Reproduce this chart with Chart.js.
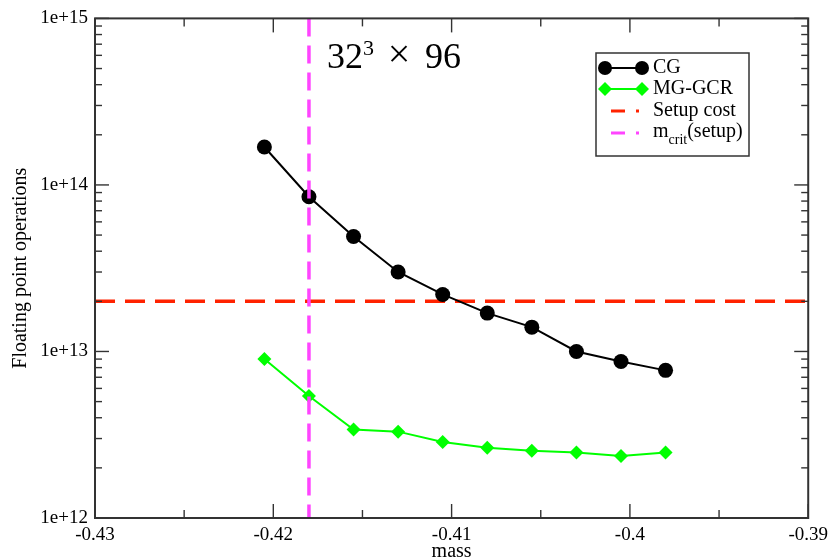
<!DOCTYPE html>
<html><head><meta charset="utf-8">
<script src="https://cdn.jsdelivr.net/npm/chart.js@4/dist/chart.umd.min.js"></script>
<style>html,body{margin:0;padding:0;background:#fff}#wrap{width:834px;height:559px;position:relative}</style>
</head><body><div id="wrap"><canvas id="c" width="834" height="559"></canvas></div>
<script>
// ---- data ----
const masses  = [-0.4205, -0.418, -0.4155, -0.413, -0.4105, -0.408, -0.4055, -0.403, -0.4005, -0.398];
const cgFlops = [1.69e14, 8.5e13, 4.9e13, 3.0e13, 2.2e13, 1.7e13, 1.4e13, 1.0e13, 8.7e12, 7.7e12];
const mgFlops = [9.0e12, 5.4e12, 3.4e12, 3.3e12, 2.86e12, 2.64e12, 2.53e12, 2.47e12, 2.36e12, 2.47e12];
const setupCost = 2e13;
const mCrit = -0.418;
const xTicks = [-0.43, -0.42, -0.41, -0.40, -0.39];
const xTickLabels = ['-0.43', '-0.42', '-0.41', '-0.4', '-0.39'];
const yTicks = [1e12, 1e13, 1e14, 1e15];
const yTickLabels = ['1e+12', '1e+13', '1e+14', '1e+15'];
const seriesNames = ['CG', 'MG-GCR', 'Setup cost', 'm', 'crit', '(setup)'];
const axisTitles = ['mass', 'Floating point operations'];
const annotationParts = ['32', '3', '\u00d7', '96'];

const SERIF = '"Liberation Serif", "Times New Roman", serif';
const xMin = xTicks[0], xMax = xTicks[xTicks.length - 1];
const yMin = yTicks[0], yMax = yTicks[yTicks.length - 1];

const COL = { cg: '#000000', mg: '#00ff00', setup: '#ff2200', crit: '#ff44ff', axis: '#333333' };

const extras = {
  id: 'extras',
  afterDraw(chart) {
    const { ctx, chartArea: a, scales: { x, y } } = chart;
    ctx.save();
    // frame
    ctx.strokeStyle = COL.axis; ctx.lineWidth = 2; ctx.setLineDash([]);
    ctx.strokeRect(a.left, a.top, a.right - a.left, a.bottom - a.top);
    ctx.lineWidth = 1.4;
    const vt = (px, len) => {
      ctx.beginPath(); ctx.moveTo(px, a.bottom); ctx.lineTo(px, a.bottom - len); ctx.stroke();
      ctx.beginPath(); ctx.moveTo(px, a.top); ctx.lineTo(px, a.top + len); ctx.stroke();
    };
    const ht = (py, len) => {
      ctx.beginPath(); ctx.moveTo(a.left, py); ctx.lineTo(a.left + len, py); ctx.stroke();
      ctx.beginPath(); ctx.moveTo(a.right, py); ctx.lineTo(a.right - len, py); ctx.stroke();
    };
    for (let i = 0; i < xTicks.length; i++) {
      vt(x.getPixelForValue(xTicks[i]), 14);
      if (i < xTicks.length - 1) vt(x.getPixelForValue((xTicks[i] + xTicks[i + 1]) / 2), 8);
    }
    for (let i = 0; i < yTicks.length; i++) {
      ht(y.getPixelForValue(yTicks[i]), 14);
      if (i < yTicks.length - 1) for (let k = 2; k <= 9; k++) ht(y.getPixelForValue(yTicks[i] * k), 7);
    }

    // annotation 32^3 x 96
    ctx.fillStyle = '#000'; ctx.textBaseline = 'alphabetic'; ctx.textAlign = 'left';
    const bx = 327, by = 68;
    ctx.font = '36px ' + SERIF;
    ctx.fillText(annotationParts[0], bx, by);
    ctx.font = '22px ' + SERIF;
    ctx.fillText(annotationParts[1], bx + 36, by - 13);
    ctx.font = '40px ' + SERIF;
    ctx.textAlign = 'center';
    ctx.fillText(annotationParts[2], bx + 72, by - 1);
    ctx.textAlign = 'left';
    ctx.font = '36px ' + SERIF;
    ctx.fillText(annotationParts[3], bx + 98, by);

    // legend
    const L = 596, T = 53, R = 749, B = 156;
    ctx.fillStyle = '#fff'; ctx.fillRect(L, T, R - L, B - T);
    ctx.strokeStyle = COL.axis; ctx.lineWidth = 1.5;
    ctx.strokeRect(L, T, R - L, B - T);
    const x0 = 605, x1 = 642, tx = 653;
    const rows = [68, 89, 111, 133];
    // CG
    ctx.strokeStyle = COL.cg; ctx.lineWidth = 2;
    ctx.beginPath(); ctx.moveTo(x0, rows[0]); ctx.lineTo(x1, rows[0]); ctx.stroke();
    ctx.fillStyle = COL.cg;
    [x0, x1].forEach(px => { ctx.beginPath(); ctx.arc(px, rows[0], 7, 0, Math.PI * 2); ctx.fill(); });
    // MG-GCR
    ctx.strokeStyle = COL.mg; ctx.lineWidth = 2;
    ctx.beginPath(); ctx.moveTo(x0, rows[1]); ctx.lineTo(x1, rows[1]); ctx.stroke();
    ctx.fillStyle = COL.mg;
    [x0, x1].forEach(px => {
      ctx.beginPath(); ctx.moveTo(px, rows[1] - 7); ctx.lineTo(px + 7, rows[1]);
      ctx.lineTo(px, rows[1] + 7); ctx.lineTo(px - 7, rows[1]); ctx.closePath(); ctx.fill();
    });
    // dashed
    [[COL.setup, rows[2]], [COL.crit, rows[3]]].forEach(([c, ry]) => {
      ctx.strokeStyle = c; ctx.lineWidth = 3; ctx.setLineDash([14, 11]);
      ctx.beginPath(); ctx.moveTo(611, ry); ctx.lineTo(639, ry); ctx.stroke();
    });
    ctx.setLineDash([]);
    ctx.fillStyle = '#000'; ctx.textBaseline = 'middle'; ctx.textAlign = 'left';
    ctx.font = '20px ' + SERIF;
    ctx.fillText(seriesNames[0], tx, rows[0]);
    ctx.fillText(seriesNames[1], tx, rows[1]);
    ctx.fillText(seriesNames[2], tx, rows[2]);
    ctx.fillText(seriesNames[3], tx, rows[3] - 1);
    let w = ctx.measureText(seriesNames[3]).width;
    ctx.font = '14px ' + SERIF;
    ctx.fillText(seriesNames[4], tx + w, rows[3] + 7);
    const w2 = ctx.measureText(seriesNames[4]).width;
    ctx.font = '20px ' + SERIF;
    ctx.fillText(seriesNames[5], tx + w + w2, rows[3] - 1);
    ctx.restore();
  }
};

new Chart(document.getElementById('c'), {
  type: 'scatter',
  data: {
    datasets: [
      { label: 'm_crit(setup)', data: [{ x: mCrit, y: yMax }, { x: mCrit, y: yMin }],
        showLine: true, borderColor: COL.crit, borderWidth: 3.5, borderDash: [18, 9], pointRadius: 0, order: 0 },
      { label: 'CG', data: masses.map((m, i) => ({ x: m, y: cgFlops[i] })), showLine: true,
        borderColor: COL.cg, backgroundColor: COL.cg, borderWidth: 2, pointRadius: 7.5, pointStyle: 'circle',
        pointBorderWidth: 0, order: 1 },
      { label: 'MG-GCR', data: masses.map((m, i) => ({ x: m, y: mgFlops[i] })), showLine: true,
        borderColor: COL.mg, backgroundColor: COL.mg, borderWidth: 2, pointRadius: 7, pointStyle: 'rectRot',
        pointBorderWidth: 0, order: 2 },
      { label: 'Setup cost', data: [{ x: xMin, y: setupCost }, { x: xMax, y: setupCost }], showLine: true,
        borderColor: COL.setup, borderWidth: 3.5, borderDash: [20, 10], pointRadius: 0, order: 3 }
    ]
  },
  options: {
    responsive: false, animation: false, devicePixelRatio: 1,
    layout: { padding: { left: 0, top: 17, right: 23, bottom: 0 } },
    plugins: { legend: { display: false }, tooltip: { enabled: false } },
    scales: {
      x: {
        type: 'linear', min: xMin, max: xMax,
        grid: { display: false, drawTicks: false }, border: { display: false },
        afterBuildTicks: s => { s.ticks = xTicks.map(v => ({ value: v })); },
        afterFit: s => { s.height = 41; },
        ticks: { padding: 6, maxRotation: 0, autoSkip: false, color: '#000',
          font: { family: SERIF, size: 19 },
          callback: (v) => { const i = xTicks.findIndex(t => Math.abs(t - v) < 1e-9); return i >= 0 ? xTickLabels[i] : ''; } },
        title: { display: true, text: axisTitles[0], color: '#000', padding: { top: 0, bottom: 0 },
          font: { family: SERIF, size: 20, lineHeight: 0.7 } }
      },
      y: {
        type: 'logarithmic', min: yMin, max: yMax,
        grid: { display: false, drawTicks: false }, border: { display: false },
        afterBuildTicks: s => { s.ticks = yTicks.map(v => ({ value: v })); },
        afterFit: s => { s.width = 95; },
        ticks: { padding: 7, autoSkip: false, color: '#000',
          font: { family: SERIF, size: 19 },
          callback: (v) => { const i = yTicks.findIndex(t => Math.abs(t - v) / t < 1e-6); return i >= 0 ? yTickLabels[i] : ''; } },
        title: { display: true, text: axisTitles[1], color: '#000', padding: { top: 9, bottom: 0 },
          font: { family: SERIF, size: 20, lineHeight: 1.2 } }
      }
    }
  },
  plugins: [extras]
});
</script>
</body></html>
